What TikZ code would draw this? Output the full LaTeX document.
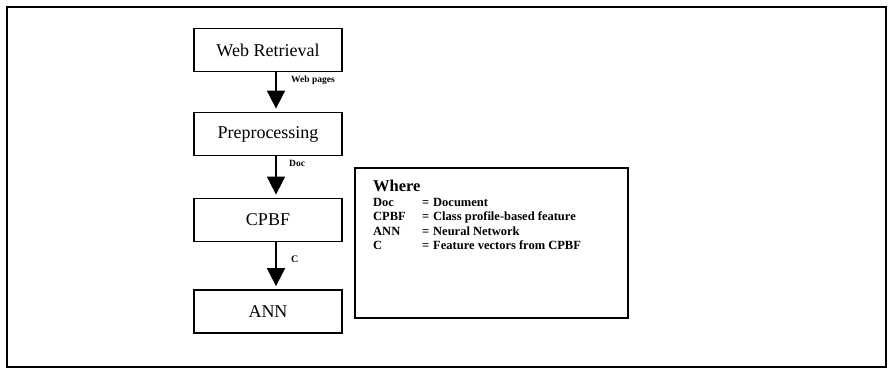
\documentclass[tikz,border=0pt]{standalone}
\usepackage{fontspec}
\setmainfont{Liberation Serif}
\usepackage{tikz}
\usetikzlibrary{arrows.meta,positioning}

\begin{document}
\begin{tikzpicture}[x=1pt,y=-1pt,
  proc/.style={draw,line width=1.8pt,minimum width=148pt,minimum height=43pt,inner sep=0pt,font=\fontsize{18}{20}\selectfont},
  lbl/.style={anchor=west,inner sep=0pt,font=\bfseries\fontsize{9.5}{11}\selectfont},
  flow/.style={line width=1.8pt,-{Triangle[width=18pt,length=18pt]},shorten >=3pt}]
      \useasboundingbox (0,0) rectangle (889,370);
      \draw[line width=1.3pt] (7,7) rectangle (886,367);

      \node[proc] (web) at (268,50) {Web Retrieval};
      \node[proc] (prep) at (268,134) {Preprocessing};
      \node[proc] (cpbf) at (268,220) {CPBF};
      \node[proc] (ann) at (268,311.5) {ANN};

      \draw[flow] ([xshift=8pt]web.south) -- ([xshift=8pt]prep.north);
      \draw[flow] ([xshift=8pt]prep.south) -- ([xshift=8pt]cpbf.north);
      \draw[flow] ([xshift=8pt]cpbf.south) -- ([xshift=8pt]ann.north);

      \node[lbl] (lweb) at (291,80) {Web pages};
      \node[lbl] (ldoc) at (289,163) {Doc};
      \node[lbl,font=\bfseries\fontsize{10}{12}\selectfont] (lc) at (291,259) {C};

      \node[draw,line width=1.8pt,minimum width=273pt,minimum height=150pt,inner sep=0pt] (legend) at (491.5,243) {};
      \node[anchor=north west,inner sep=0pt,align=left,font=\bfseries\fontsize{12.5}{14.5}\selectfont] (where) at (373,180)
        {\begin{tabular}{@{}p{49pt}@{}p{11pt}@{}l@{}}
          \multicolumn{3}{@{}l}{\fontsize{16.5}{16}\selectfont Where}\\
          Doc & = & Document\\
          CPBF & = & Class profile-based feature\\
          ANN & = & Neural Network\\
          C & = & Feature vectors from CPBF
        \end{tabular}};
\end{tikzpicture}
\end{document}
